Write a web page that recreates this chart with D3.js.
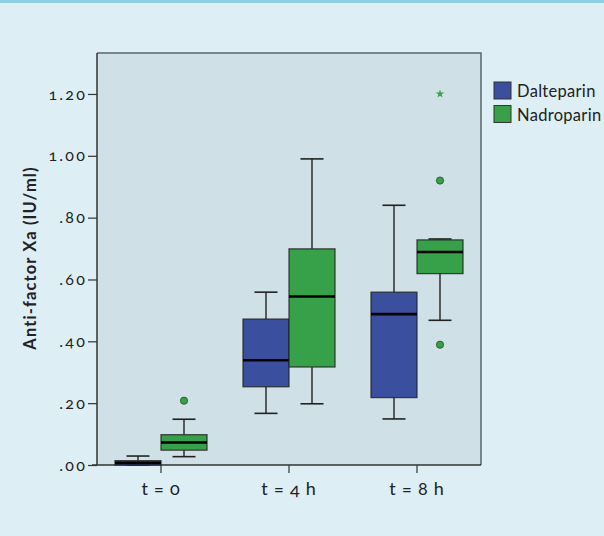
<!DOCTYPE html>
<html><head><meta charset="utf-8">
<script src="https://cdn.jsdelivr.net/npm/d3@7"></script>
<style>
html,body{margin:0;padding:0;background:#ddeef5;}
svg{display:block;font-family:Lato,"Open Sans",sans-serif;}
.onum{font-variant-numeric:oldstyle-nums;font-feature-settings:"onum" 1;}
</style></head><body>
<svg id="c" width="604" height="536"></svg>
<script>
const categories = ["t = 0", "t = 4 h", "t = 8 h"];
const seriesNames = ["Dalteparin", "Nadroparin"];
// [whiskerLow, q1, median, q3, whiskerHigh]
const dalteparin = [
  [0.000, 0.000, 0.007, 0.014, 0.029],
  [0.167, 0.253, 0.339, 0.472, 0.559],
  [0.149, 0.218, 0.488, 0.559, 0.840]
];
const nadroparin = [
  [0.027, 0.048, 0.073, 0.098, 0.148],
  [0.198, 0.317, 0.545, 0.699, 0.990],
  [0.468, 0.619, 0.689, 0.728, 0.731]
];
const dalteparinOutliers = [[], [], []];
const nadroparinOutliers = [[0.208], [], [0.920, 0.389]];
const nadroparinExtremes = [[], [], [1.20]];
const yTicks = [0, 0.2, 0.4, 0.6, 0.8, 1.0, 1.2];
const yTickLabels = [".00", ".20", ".40", ".60", ".80", "1.00", "1.20"];
const colors = ["#3b4f9f", "#37a14a"];

const svg = d3.select("#c");
svg.append("rect").attr("x",0).attr("y",0).attr("width",604).attr("height",3).attr("fill","#8ed0e2");

const L = 97, R = 481, T = 53, B = 465;
const y = d3.scaleLinear().domain([0, 1.3325]).range([B, T]);
const x = d3.scaleBand().domain(categories).range([L, R]);
const half = 46;

// plot background
svg.append("rect").attr("x",L).attr("y",T).attr("width",R-L).attr("height",B-T).attr("fill","#d0e0e7");
// frame top/right
svg.append("path").attr("d",`M${L},${T}H${R}V${B}`).attr("fill","none").attr("stroke","#5b666e").attr("stroke-width",1.5);

// y axis
const ya = svg.append("g").attr("transform",`translate(${L},0)`)
  .call(d3.axisLeft(y).tickValues(yTicks).tickSize(9).tickPadding(1).tickFormat((d,i)=>yTickLabels[i]));
ya.select(".domain").attr("stroke","#333").attr("stroke-width",1.5).attr("d",`M0,${B}V${T}`);
ya.selectAll(".tick line").attr("stroke","#333").attr("stroke-width",1.2);
ya.selectAll(".tick text").attr("class","onum").attr("font-size",16).attr("letter-spacing","2.2px").attr("fill","#222").attr("font-family","Lato");

// x axis
const xa = svg.append("g").attr("transform",`translate(0,${B})`)
  .call(d3.axisBottom(x).tickSize(8).tickPadding(7));
xa.select(".domain").attr("stroke","#333").attr("stroke-width",1.5).attr("d",`M${L-5},0H${R}`);
xa.selectAll(".tick line").attr("stroke","#333").attr("stroke-width",1.2);
xa.selectAll(".tick text").attr("class","onum").attr("font-size",18).attr("letter-spacing","0.8px").attr("fill","#222").attr("font-family","Lato").attr("dy","0.85em");

// y title
svg.append("text").attr("transform",`translate(36,${(T+B)/2-1}) rotate(-90)`)
  .attr("text-anchor","middle").attr("font-weight","bold").attr("font-size",16.5).attr("letter-spacing","1.1px").attr("fill","#222")
  .text("Anti-factor Xa (IU/ml)");

function drawBoxes(data, outl, extr, si){
  data.forEach((d,i)=>{
    const c = x(categories[i]) + x.bandwidth()/2;
    const x0 = si===0 ? c-half : c;
    const x1 = x0 + half;
    const cx = (x0+x1)/2;
    const cap = 11.5;
    const g = svg.append("g");
    g.append("line").attr("x1",cx).attr("x2",cx).attr("y1",y(d[0])).attr("y2",y(d[1])).attr("stroke","#222").attr("stroke-width",1.4);
    g.append("line").attr("x1",cx).attr("x2",cx).attr("y1",y(d[3])).attr("y2",y(d[4])).attr("stroke","#222").attr("stroke-width",1.4);
    [d[0],d[4]].forEach(v=>g.append("line").attr("x1",cx-cap).attr("x2",cx+cap).attr("y1",y(v)).attr("y2",y(v)).attr("stroke","#222").attr("stroke-width",1.6));
    g.append("rect").attr("x",x0).attr("y",y(d[3])).attr("width",half).attr("height",Math.max(0.5,y(d[1])-y(d[3])))
      .attr("fill",colors[si]).attr("stroke","#222").attr("stroke-width",1.3).attr("stroke-opacity",0.8);
    g.append("line").attr("x1",x0).attr("x2",x1).attr("y1",y(d[2])).attr("y2",y(d[2])).attr("stroke","#000").attr("stroke-width",2.6);
    outl[i].forEach(v=>g.append("circle").attr("cx",cx).attr("cy",y(v)).attr("r",3.6).attr("fill",colors[si]).attr("stroke","#1e4d26").attr("stroke-width",0.8));
    extr[i].forEach(v=>g.append("path").attr("transform",`translate(${cx},${y(v)})`).attr("d",d3.symbol(d3.symbolStar,22)()).attr("fill",colors[si]));
  });
}
drawBoxes(dalteparin, dalteparinOutliers, [[],[],[]], 0);
drawBoxes(nadroparin, nadroparinOutliers, nadroparinExtremes, 1);

// legend
const lg = svg.append("g");
seriesNames.forEach((n,i)=>{
  lg.append("rect").attr("x",494).attr("y",82+i*23.5).attr("width",17).attr("height",17).attr("fill",colors[i]).attr("stroke","#333").attr("stroke-width",1);
  lg.append("text").attr("x",517).attr("y",97+i*23.5).attr("font-size",16.5).attr("letter-spacing","0.3px").attr("fill","#222").text(n);
});
</script></body></html>
